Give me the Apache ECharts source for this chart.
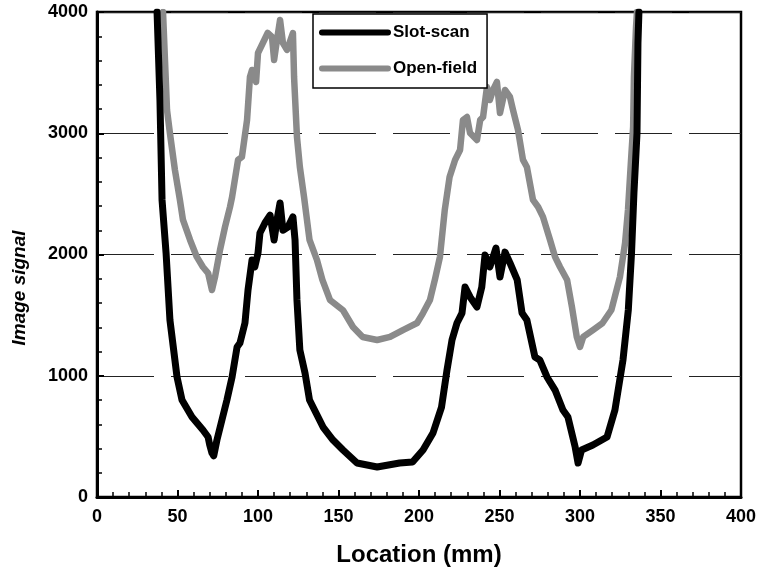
<!DOCTYPE html>
<html>
<head>
<meta charset="utf-8">
<script src="https://cdn.jsdelivr.net/npm/echarts@6/dist/echarts.min.js"></script>
<style>html,body{margin:0;padding:0;background:#fff;}#c{width:763px;height:576px;}</style>
</head>
<body>
<div id="c"></div>
<script>
var xTicks = [0, 50, 100, 150, 200, 250, 300, 350, 400];
var yTicks = [0, 1000, 2000, 3000, 4000];
var seriesNames = ['Slot-scan', 'Open-field'];
var xTitle = 'Location (mm)';
var yTitle = 'Image signal';

var slotX = [37.3,39.1,40.4,42.9,45.3,49.7,52.8,59,65.8,69,70,71.4,72.5,74.5,80.7,83.9,87,88.8,91.9,93.8,96.3,98,100,101.2,104.3,107.5,110,111.8,113.7,115.5,118.6,121.7,123,124.2,126,129.2,132,140.4,146.6,152.8,161.5,174,188,196,202.5,208.7,214,217.4,220.5,223.6,226.7,228.6,231.7,236,239,241,244,247.8,250.3,253.4,256.5,261,264,267,272,275,279.5,284.5,289.4,292.5,297,298.8,301,308,316.8,321.7,326.7,330,332,333.5,335.4,336,336.6];
var slotY = [4000,3274,2450,2012,1460,990,800,660,553,495,430,363,340,470,800,990,1237,1270,1435,1707,1955,1897,2012,2177,2260,2325,2120,2285,2425,2200,2227,2310,2120,1625,1212,1023,800,577,470,388,280,247,280,289,388,528,742,1047,1295,1435,1517,1732,1650,1567,1732,1996,1897,2053,1814,2020,1930,1790,1517,1460,1155,1130,990,882,717,660,412,280,388,429,495,717,1130,1542,2012,2507,3000,3744,4000];

var openX = [41,43.5,45.3,48.4,51.5,53.4,57.8,62,65.8,69,71.4,73.3,76.4,79.5,82.6,83.9,87.6,90,93.2,95,96.3,98.8,100,103,106,108.7,110,111.8,113.7,115.5,118,121.7,122.4,124.2,126,128.6,132,136.6,140,144.7,152.8,159,165,174,182,190,198.8,202.5,206.8,210,213,216,219,222.4,225.5,227.3,229.8,231.7,236,238,239.8,242.2,244,246,248.4,250.3,253.4,256.5,258.4,261.5,264.6,267,270.8,274,277,281.4,284.5,287.6,292,295,298,300,302,308,314,319.5,324.8,328,329.8,331.7,333,333.5,334.8,335.4];
var openY = [4000,3190,3000,2697,2450,2285,2120,1980,1897,1847,1707,1814,2037,2227,2392,2474,2780,2804,3109,3464,3522,3423,3662,3744,3827,3794,3604,3770,3934,3744,3687,3827,3464,2970,2722,2474,2120,1955,1790,1625,1540,1402,1320,1295,1320,1377,1435,1517,1625,1800,1980,2367,2640,2780,2862,3109,3134,3002,2944,3109,3134,3381,3274,3357,3423,3167,3357,3299,3192,3027,2780,2722,2450,2392,2310,2120,1980,1897,1790,1567,1320,1237,1320,1377,1435,1542,1814,2095,2367,2780,3052,3464,3876,4000];

function zip(xs, ys) { return xs.map(function (x, i) { return [x, ys[i]]; }); }

var FONT = 'Arial, "Liberation Sans", sans-serif';
var chart = echarts.init(document.getElementById('c'), null, {renderer: 'canvas'});
chart.setOption({
  animation: false,
  backgroundColor: '#fff',
  grid: {left: 97, right: 22, top: 12, bottom: 79, show: true, borderColor: '#000', borderWidth: 2.5, backgroundColor: 'transparent'},
  legend: {
    data: [seriesNames[0], seriesNames[1]],
    orient: 'vertical', left: 313, top: 14,
    itemWidth: 66, itemHeight: 14, itemGap: 19,
    padding: [10, 10, 11, 6],
    borderColor: '#000', borderWidth: 1.5, backgroundColor: '#fff',
    itemStyle: {opacity: 0},
    lineStyle: {width: 6, cap: 'round'},
    textStyle: {fontSize: 17, fontWeight: 'bold', color: '#000', fontFamily: FONT}
  },
  graphic: [{
    type: 'text', left: 10, top: 'middle', rotation: Math.PI / 2,
    x: 22, y: 282,
    style: {text: yTitle, fontSize: 19, fontWeight: 'bold', fontStyle: 'italic', fill: '#000', font: 'italic bold 19px Arial, "Liberation Sans", sans-serif', align: 'center', verticalAlign: 'middle'}
  }],
  xAxis: {
    type: 'value', min: xTicks[0], max: xTicks[xTicks.length - 1], interval: 50,
    name: xTitle, nameLocation: 'middle', nameGap: 46,
    nameTextStyle: {fontSize: 24, fontWeight: 'bold', color: '#000', fontFamily: FONT},
    axisLine: {lineStyle: {color: '#000', width: 3}},
    axisTick: {inside: true, length: 7, lineStyle: {color: '#000', width: 2}},
    minorTick: {show: true, splitNumber: 5, length: 5, lineStyle: {color: '#000', width: 1.5}},
    splitLine: {show: false},
    axisLabel: {fontSize: 18, fontWeight: 'bold', color: '#000', margin: 11, fontFamily: FONT,
      formatter: function (v) { return String(v); }}
  },
  yAxis: {
    type: 'value', min: yTicks[0], max: yTicks[yTicks.length - 1], interval: 1000,
    axisLine: {lineStyle: {color: '#000', width: 3}},
    axisTick: {inside: true, length: 7, lineStyle: {color: '#000', width: 2}},
    minorTick: {show: true, splitNumber: 5, length: 5, lineStyle: {color: '#000', width: 1.5}},
    splitLine: {show: true, lineStyle: {color: '#222', width: 1, type: [57, 17]}},
    axisLabel: {fontSize: 18, fontWeight: 'bold', color: '#000', margin: 9, fontFamily: FONT,
      formatter: function (v) { return String(v); }}
  },
  series: [
    {name: seriesNames[1], type: 'line', data: zip(openX, openY), showSymbol: false, symbol: 'none', clip: true,
     itemStyle: {color: '#8a8a8a'}, lineStyle: {color: '#8a8a8a', width: 6.5, join: 'round', cap: 'round'}, z: 2},
    {name: seriesNames[0], type: 'line', data: zip(slotX, slotY), showSymbol: false, symbol: 'none', clip: true,
     itemStyle: {color: '#000'}, lineStyle: {color: '#000', width: 7, join: 'round', cap: 'round'}, z: 3}
  ]
});
</script>
</body>
</html>
